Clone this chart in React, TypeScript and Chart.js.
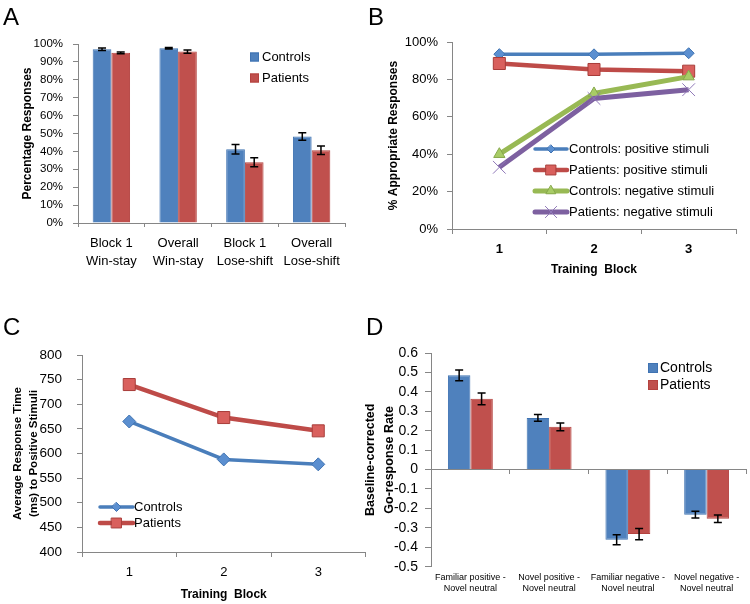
import React, { useEffect, useRef } from "react";
import { Chart, registerables } from "chart.js";

Chart.register(...registerables);
Chart.defaults.font.family = '"Liberation Sans", Arial, sans-serif';
Chart.defaults.color = "#000";

// ---------- Panel A data ----------
const categoriesA = [
  ["Block 1", "Win-stay"],
  ["Overall", "Win-stay"],
  ["Block 1", "Lose-shift"],
  ["Overall", "Lose-shift"],
];
const controlsA = [97.0, 97.6, 41.2, 48.3];
const patientsA = [95.1, 95.8, 33.9, 40.6];
const controlsAErr = [0.7, 0.4, 2.6, 2.1];
const patientsAErr = [0.5, 0.9, 2.5, 2.4];
const ticksA = [0, 100, 10];

// ---------- Panel B data ----------
const blocks = ["1", "2", "3"];
const controlsPos = [93.5, 93.4, 94.0];
const patientsPos = [88.5, 85.3, 84.4];
const controlsNeg = [40.0, 72.5, 81.5];
const patientsNeg = [33.0, 69.8, 74.5];
const ticksB = [0, 100, 20];

// ---------- Panel C data ----------
const controlsRT = [665, 588, 578];
const patientsRT = [740, 673, 646];
const ticksC = [400, 800, 50];

// ---------- Panel D data ----------
const categoriesD = [
  ["Familiar positive -", "Novel neutral"],
  ["Novel positive -", "Novel neutral"],
  ["Familiar negative -", "Novel neutral"],
  ["Novel negative -", "Novel neutral"],
];
const controlsD = [0.485, 0.266, -0.361, -0.232];
const patientsD = [0.364, 0.22, -0.332, -0.253];
const controlsDErr = [0.028, 0.017, 0.026, 0.017];
const patientsDErr = [0.03, 0.02, 0.029, 0.019];
const ticksD = [-0.5, 0.6, 0.1];

const BLUE = "#4F81BD";
const BLUE_B = "#3F73B2";
const RED = "#C0504D";
const RED_B = "#B4423F";
const AXIS = "#868686";

function drawMarker(ctx: CanvasRenderingContext2D, style: string, x: number, y: number, r: number, fill: string, stroke: string) {
  ctx.save();
  ctx.fillStyle = fill;
  ctx.strokeStyle = stroke;
  ctx.lineWidth = 1;
  ctx.beginPath();
  if (style === "rectRot") {
    ctx.moveTo(x, y - r); ctx.lineTo(x + r, y); ctx.lineTo(x, y + r); ctx.lineTo(x - r, y); ctx.closePath();
    ctx.fill(); ctx.stroke();
  } else if (style === "rect") {
    const s = r * Math.SQRT1_2;
    ctx.rect(x - s, y - s, 2 * s, 2 * s); ctx.fill(); ctx.stroke();
  } else if (style === "triangle") {
    ctx.moveTo(x, y - r); ctx.lineTo(x + r * 0.866, y + r / 2); ctx.lineTo(x - r * 0.866, y + r / 2); ctx.closePath();
    ctx.fill(); ctx.stroke();
  } else if (style === "crossRot") {
    const s = r * Math.SQRT1_2;
    ctx.moveTo(x - s, y - s); ctx.lineTo(x + s, y + s); ctx.moveTo(x + s, y - s); ctx.lineTo(x - s, y + s);
    ctx.stroke();
  }
  ctx.restore();
}

const errorBarPlugin = {
  id: "errorBars",
  afterDatasetsDraw(chart: any) {
    const ctx = chart.ctx;
    chart.data.datasets.forEach((ds: any, i: number) => {
      const errs = ds.errors;
      if (!errs) return;
      const meta = chart.getDatasetMeta(i);
      const yScale = chart.scales[meta.yAxisID];
      meta.data.forEach((el: any, j: number) => {
        const v = ds.data[j];
        const e = errs[j];
        const x = el.x;
        const y1 = yScale.getPixelForValue(v + e);
        const y2 = yScale.getPixelForValue(v - e);
        ctx.save();
        ctx.strokeStyle = "#000";
        ctx.lineWidth = 1.5;
        ctx.beginPath();
        ctx.moveTo(x, y1); ctx.lineTo(x, y2);
        ctx.moveTo(x - 4, y1); ctx.lineTo(x + 4, y1);
        ctx.moveTo(x - 4, y2); ctx.lineTo(x + 4, y2);
        ctx.stroke();
        ctx.restore();
      });
    });
  },
};

const legendPlugin = {
  id: "customLegend",
  afterDraw(chart: any, _args: any, opts: any) {
    if (!opts || !opts.items) return;
    const ctx = chart.ctx;
    ctx.save();
    ctx.font = opts.font;
    ctx.textBaseline = "middle";
    ctx.textAlign = "left";
    const items = opts.items;
    for (let i = 0; i < items.length; i++) {
      const it = items[i];
      const y = opts.y + i * opts.spacing;
      if (opts.kind === "box") {
        const s = opts.box;
        ctx.fillStyle = it.color;
        ctx.fillRect(opts.x, y - s / 2, s, s);
        ctx.strokeStyle = it.border;
        ctx.lineWidth = 1;
        ctx.strokeRect(opts.x + 0.5, y - s / 2 + 0.5, s - 1, s - 1);
      } else {
        ctx.strokeStyle = it.color;
        ctx.lineWidth = it.lineWidth;
        ctx.lineCap = "round";
        ctx.beginPath();
        ctx.moveTo(opts.x, y);
        ctx.lineTo(opts.x + opts.lineLen, y);
        ctx.stroke();
        drawMarker(ctx, it.marker, opts.x + opts.lineLen / 2, y, it.size, it.fill, it.border);
      }
      ctx.fillStyle = "#000";
      ctx.fillText(it.text, opts.textX, y);
    }
    ctx.restore();
  },
};

function fixWidth(w: number) {
  return (scale: any) => { scale.width = w; };
}
function fixHeight(h: number) {
  return (scale: any) => { scale.height = h; };
}

function configA(): any {
  return {
    type: "bar",
    data: {
      labels: categoriesA,
      datasets: [
        { label: "Controls", data: controlsA, errors: controlsAErr, backgroundColor: BLUE, borderColor: BLUE_B, borderWidth: 1 },
        { label: "Patients", data: patientsA, errors: patientsAErr, backgroundColor: RED, borderColor: RED_B, borderWidth: 1 },
      ],
    },
    options: {
      responsive: false,
      animation: false,
      devicePixelRatio: 1,
      layout: { padding: { left: 0, top: 44, right: 30, bottom: 0 } },
      datasets: { bar: { categoryPercentage: 0.56, barPercentage: 1 } },
      plugins: {
        legend: { display: false },
        tooltip: { enabled: false },
        customLegend: {
          kind: "box", box: 9, x: 250, textX: 262, y: 57, spacing: 21, font: '13px "Liberation Sans", Arial, sans-serif',
          items: [
            { text: "Controls", color: BLUE, border: BLUE_B },
            { text: "Patients", color: RED, border: RED_B },
          ],
        },
      },
      scales: {
        x: {
          offset: true,
          grid: { display: true, drawOnChartArea: false, offset: true, tickLength: 4, color: AXIS },
          border: { color: AXIS },
          ticks: { font: { size: 13, lineHeight: 1.4 }, padding: 7, maxRotation: 0, autoSkip: false },
          afterFit: fixHeight(77),
        },
        y: {
          min: ticksA[0], max: ticksA[1],
          grid: { display: true, drawOnChartArea: false, tickLength: 5, color: AXIS },
          border: { color: AXIS },
          ticks: { stepSize: ticksA[2], autoSkip: false, padding: 10, font: { size: 11.5 }, callback: (v: any) => v + "%" },
          title: { display: true, text: "Percentage Responses", font: { size: 12, weight: "bold" }, padding: { top: 20 } },
          afterFit: fixWidth(78),
        },
      },
    },
    plugins: [errorBarPlugin, legendPlugin],
  };
}

function configB(): any {
  return {
    type: "line",
    data: {
      labels: blocks,
      datasets: [
        { label: "Controls: positive stimuli", data: controlsPos, borderColor: "#4A7EBB", borderWidth: 3.5, pointStyle: "rectRot", pointRadius: 5.5, pointBackgroundColor: "#5B8FD0", pointBorderColor: "#3F73B2", pointBorderWidth: 1, order: 3 },
        { label: "Patients: positive stimuli", data: patientsPos, borderColor: "#BE4B48", borderWidth: 4.5, pointStyle: "rect", pointRadius: 8.5, pointBackgroundColor: "#D9605D", pointBorderColor: "#A83C39", pointBorderWidth: 1, order: 2 },
        { label: "Controls: negative stimuli", data: controlsNeg, borderColor: "#98B954", borderWidth: 5, pointStyle: "triangle", pointRadius: 6.5, pointBackgroundColor: "#A8CC66", pointBorderColor: "#86A84A", pointBorderWidth: 1, order: 1 },
        { label: "Patients: negative stimuli", data: patientsNeg, borderColor: "#7D60A0", borderWidth: 5, pointStyle: "crossRot", pointRadius: 9, pointBackgroundColor: "#8A70B0", pointBorderColor: "#8F78B8", pointBorderWidth: 1, order: 0 },
      ],
    },
    options: {
      responsive: false,
      animation: false,
      devicePixelRatio: 1,
      layout: { padding: { left: 0, top: 42, right: 14, bottom: 0 } },
      elements: { line: { tension: 0 } },
      plugins: {
        legend: { display: false },
        tooltip: { enabled: false },
        customLegend: {
          kind: "line", x: 160, lineLen: 32, textX: 194, y: 149, spacing: 21, font: '13px "Liberation Sans", Arial, sans-serif',
          items: [
            { text: "Controls: positive stimuli", color: "#4A7EBB", lineWidth: 3.5, marker: "rectRot", size: 4, fill: "#5B8FD0", border: "#3F73B2" },
            { text: "Patients: positive stimuli", color: "#BE4B48", lineWidth: 4.5, marker: "rect", size: 7, fill: "#D9605D", border: "#A83C39" },
            { text: "Controls: negative stimuli", color: "#98B954", lineWidth: 5, marker: "triangle", size: 5.5, fill: "#A8CC66", border: "#86A84A" },
            { text: "Patients: negative stimuli", color: "#7D60A0", lineWidth: 5, marker: "crossRot", size: 8, fill: "#8A70B0", border: "#8F78B8" },
          ],
        },
      },
      scales: {
        x: {
          offset: true,
          grid: { display: true, drawOnChartArea: false, offset: true, tickLength: 5, color: AXIS },
          border: { color: AXIS },
          ticks: { font: { size: 13, weight: "bold" }, padding: 8 },
          title: { display: true, text: "Training  Block", font: { size: 12, weight: "bold" }, padding: { bottom: 23 } },
          afterFit: fixHeight(71),
        },
        y: {
          min: ticksB[0], max: ticksB[1],
          grid: { display: true, drawOnChartArea: false, tickLength: 5, color: AXIS },
          border: { color: AXIS },
          ticks: { stepSize: ticksB[2], autoSkip: false, padding: 9, font: { size: 13 }, callback: (v: any) => v + "%" },
          title: { display: true, text: "% Appropriate Responses", font: { size: 12, weight: "bold" }, padding: { top: 11 } },
          afterFit: fixWidth(77),
        },
      },
    },
    plugins: [legendPlugin],
  };
}

function configC(): any {
  return {
    type: "line",
    data: {
      labels: blocks,
      datasets: [
        { label: "Controls", data: controlsRT, borderColor: "#4A7EBB", borderWidth: 3.5, pointStyle: "rectRot", pointRadius: 6.5, pointBackgroundColor: "#5B8FD0", pointBorderColor: "#3F73B2", pointBorderWidth: 1 },
        { label: "Patients", data: patientsRT, borderColor: "#BE4B48", borderWidth: 4.5, pointStyle: "rect", pointRadius: 8.5, pointBackgroundColor: "#D9605D", pointBorderColor: "#A83C39", pointBorderWidth: 1 },
      ],
    },
    options: {
      responsive: false,
      animation: false,
      devicePixelRatio: 1,
      layout: { padding: { left: 0, top: 55, right: 7, bottom: 0 } },
      elements: { line: { tension: 0 } },
      plugins: {
        legend: { display: false },
        tooltip: { enabled: false },
        customLegend: {
          kind: "line", x: 100, lineLen: 33, textX: 134, y: 207, spacing: 16, font: '13px "Liberation Sans", Arial, sans-serif',
          items: [
            { text: "Controls", color: "#4A7EBB", lineWidth: 3.5, marker: "rectRot", size: 4.5, fill: "#5B8FD0", border: "#3F73B2" },
            { text: "Patients", color: "#BE4B48", lineWidth: 4.5, marker: "rect", size: 7, fill: "#D9605D", border: "#A83C39" },
          ],
        },
      },
      scales: {
        x: {
          offset: true,
          grid: { display: true, drawOnChartArea: false, offset: true, tickLength: 5, color: AXIS },
          border: { color: AXIS },
          ticks: { font: { size: 13 }, padding: 7.5 },
          title: { display: true, text: "Training  Block", font: { size: 12, weight: "bold" }, padding: { bottom: 2 } },
          afterFit: fixHeight(52),
        },
        y: {
          min: ticksC[0], max: ticksC[1],
          grid: { display: true, drawOnChartArea: false, tickLength: 5, color: AXIS },
          border: { color: AXIS },
          ticks: { stepSize: ticksC[2], autoSkip: false, padding: 15, font: { size: 13.5 } },
          title: { display: true, text: ["Average Response Time", "(ms) to Positive Stimuli"], font: { size: 11.5, weight: "bold", lineHeight: 1.45 }, padding: { top: 9 } },
          afterFit: fixWidth(82),
        },
      },
    },
    plugins: [legendPlugin],
  };
}

function configD(): any {
  return {
    type: "bar",
    data: {
      labels: categoriesD,
      datasets: [
        { label: "Controls", data: controlsD, errors: controlsDErr, backgroundColor: BLUE, borderColor: BLUE_B, borderWidth: 1 },
        { label: "Patients", data: patientsD, errors: patientsDErr, backgroundColor: RED, borderColor: RED_B, borderWidth: 1 },
      ],
    },
    options: {
      responsive: false,
      animation: false,
      devicePixelRatio: 1,
      layout: { padding: { left: 0, top: 53, right: 4, bottom: 0 } },
      datasets: { bar: { categoryPercentage: 0.57, barPercentage: 1 } },
      plugins: {
        legend: { display: false },
        tooltip: { enabled: false },
        customLegend: {
          kind: "box", box: 10, x: 293, textX: 305, y: 68, spacing: 17, font: '14px "Liberation Sans", Arial, sans-serif',
          items: [
            { text: "Controls", color: BLUE, border: BLUE_B },
            { text: "Patients", color: RED, border: RED_B },
          ],
        },
      },
      scales: {
        x: {
          position: { y: 0 },
          offset: true,
          grid: { display: true, drawOnChartArea: false, offset: true, tickLength: 4, color: AXIS },
          border: { color: AXIS },
          ticks: { display: false },
        },
        x2: {
          type: "category",
          position: "bottom",
          labels: categoriesD,
          offset: true,
          grid: { display: false, drawTicks: false },
          border: { display: false },
          ticks: { font: { size: 9, lineHeight: 1.3 }, padding: 4.5, maxRotation: 0, autoSkip: false },
          afterFit: fixHeight(37.3),
        },
        y: {
          min: ticksD[0], max: ticksD[1],
          grid: { display: true, drawOnChartArea: false, tickLength: 6, color: AXIS },
          border: { color: AXIS },
          ticks: {
            stepSize: ticksD[2], autoSkip: false, padding: 7, font: { size: 14 },
            callback: (v: any) => { const r = Math.round(v * 10) / 10; return r === 0 ? "0" : r.toFixed(1); },
          },
          title: { display: true, text: ["Baseline-corrected", "Go-response Rate"], font: { size: 12.5, weight: "bold", lineHeight: 1.5 }, padding: { top: 6 } },
          afterFit: fixWidth(76),
        },
      },
    },
    plugins: [errorBarPlugin, legendPlugin],
  };
}

function ChartBox(props: { make: () => any; left: number; top: number; width: number; height: number }) {
  const ref = useRef<HTMLCanvasElement>(null);
  useEffect(() => {
    const chart = new Chart(ref.current as HTMLCanvasElement, props.make());
    return () => chart.destroy();
  }, []);
  return (
    <div style={{ position: "absolute", left: props.left, top: props.top, width: props.width, height: props.height }}>
      <canvas ref={ref} width={props.width} height={props.height} style={{ width: props.width, height: props.height, display: "block" }} />
    </div>
  );
}

const letterStyle: React.CSSProperties = {
  position: "absolute",
  fontFamily: '"Liberation Sans", Arial, sans-serif',
  fontSize: 24,
  lineHeight: "24px",
  color: "#000",
};

export default function App() {
  return (
    <div style={{ position: "fixed", left: 0, top: 0, width: 750, height: 604, background: "#fff", overflow: "hidden" }}>
      <ChartBox make={configA} left={0} top={0} width={375} height={300} />
      <ChartBox make={configB} left={375} top={0} width={375} height={300} />
      <ChartBox make={configC} left={0} top={300} width={375} height={304} />
      <ChartBox make={configD} left={355} top={300} width={395} height={304} />
      <div style={{ ...letterStyle, left: 3, top: 5 }}>A</div>
      <div style={{ ...letterStyle, left: 368, top: 5 }}>B</div>
      <div style={{ ...letterStyle, left: 3, top: 315 }}>C</div>
      <div style={{ ...letterStyle, left: 366, top: 315 }}>D</div>
    </div>
  );
}
